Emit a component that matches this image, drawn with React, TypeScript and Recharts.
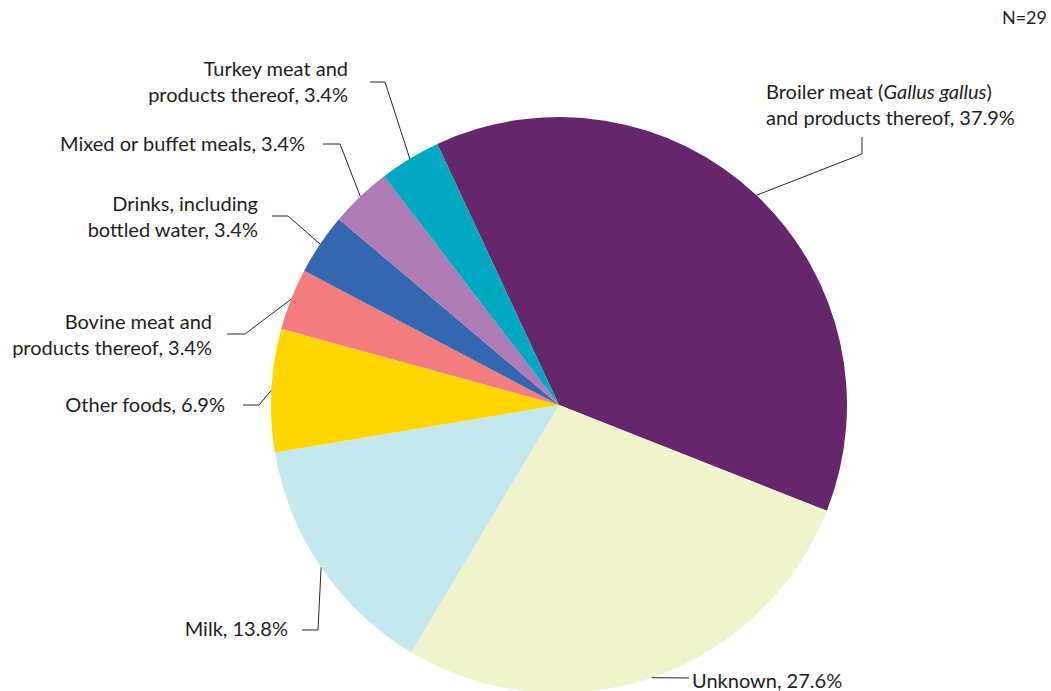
import { Pie, PieChart, Cell } from 'recharts';

const categories = [
  'Broiler meat (_Gallus gallus_)|and products thereof',
  'Unknown',
  'Milk',
  'Other foods',
  'Bovine meat and|products thereof',
  'Drinks, including|bottled water',
  'Mixed or buffet meals',
  'Turkey meat and|products thereof',
];
const outbreaks = [11, 8, 4, 2, 1, 1, 1, 1];
const colors = ['#65266c', '#f0f4cc', '#c5e8ee', '#ffd600', '#f27c7e', '#3566b0', '#ae7bb4', '#00a9c1'];
const total = outbreaks.reduce((a, b) => a + b, 0);

const chartData = categories.map((name, i) => ({ name, value: outbreaks[i] }));

// where each label sits and how its leader line bends (label end first, slice edge last)
const labelLayout: { x: number; y: number; anchor: 'start' | 'end'; bends: number[][] }[] = [
  { x: 766, y: 91, anchor: 'start', bends: [[862, 137], [862, 154]] },
  { x: 692, y: 680, anchor: 'start', bends: [[689, 678]] },
  { x: 288, y: 628, anchor: 'end', bends: [[302, 630], [318, 630]] },
  { x: 225, y: 404, anchor: 'end', bends: [[243, 405], [259, 405]] },
  { x: 212, y: 321, anchor: 'end', bends: [[227, 334], [245, 334]] },
  { x: 258, y: 203, anchor: 'end', bends: [[272, 216], [288, 216]] },
  { x: 305, y: 143, anchor: 'end', bends: [[323, 144], [340, 144]] },
  { x: 348, y: 68, anchor: 'end', bends: [[370, 82], [385, 82]] },
];

const textColor = '#231f20';
const font = 'Lato, sans-serif';
const RAD = Math.PI / 180;

function renderLabel(props: any) {
  const { cx, cy, midAngle, outerRadius, index, value } = props;
  const lay = labelLayout[index];
  const ex = cx + outerRadius * Math.cos(-midAngle * RAD);
  const ey = cy + outerRadius * Math.sin(-midAngle * RAD);
  const pts = [...lay.bends, [ex, ey]];
  const pct = ((value / total) * 100).toFixed(1) + '%';
  const lines = categories[index].split('|');
  lines[lines.length - 1] += ', ' + pct;
  return (
    <g key={`lbl-${index}`}>
      <polyline points={pts.map((p) => p.join(',')).join(' ')} fill="none" stroke="#2a2a2a" strokeWidth={1} />
      <text x={lay.x} y={lay.y} textAnchor={lay.anchor} fill={textColor} fontSize={20} fontFamily={font}>
        {lines.map((ln, li) => (
          <tspan key={li} x={lay.x} y={lay.y + li * 26} dominantBaseline="central">
            {ln.split('_').map((part, pi) => (
              <tspan key={pi} fontStyle={pi % 2 === 1 ? 'italic' : 'normal'}>{part}</tspan>
            ))}
          </tspan>
        ))}
      </text>
    </g>
  );
}

export default function App() {
  return (
    <div style={{ position: 'absolute', left: 0, top: 0, width: 1051, height: 691, background: '#fff' }}>
      <PieChart width={1051} height={691} margin={{ top: 0, right: 0, bottom: 0, left: 0 }}>
        <Pie
          data={chartData}
          dataKey="value"
          cx={559}
          cy={405}
          outerRadius={288}
          startAngle={115}
          endAngle={-245}
          stroke="none"
          label={renderLabel}
          labelLine={false}
          isAnimationActive={false}
        >
          {chartData.map((_, index) => (
            <Cell key={`cell-${String(index)}`} fill={colors[index]} />
          ))}
        </Pie>
        <text x={1047} y={17} textAnchor="end" dominantBaseline="central" fill={textColor} fontSize={18} fontFamily={font}>
          N={total}
        </text>
      </PieChart>
    </div>
  );
}
